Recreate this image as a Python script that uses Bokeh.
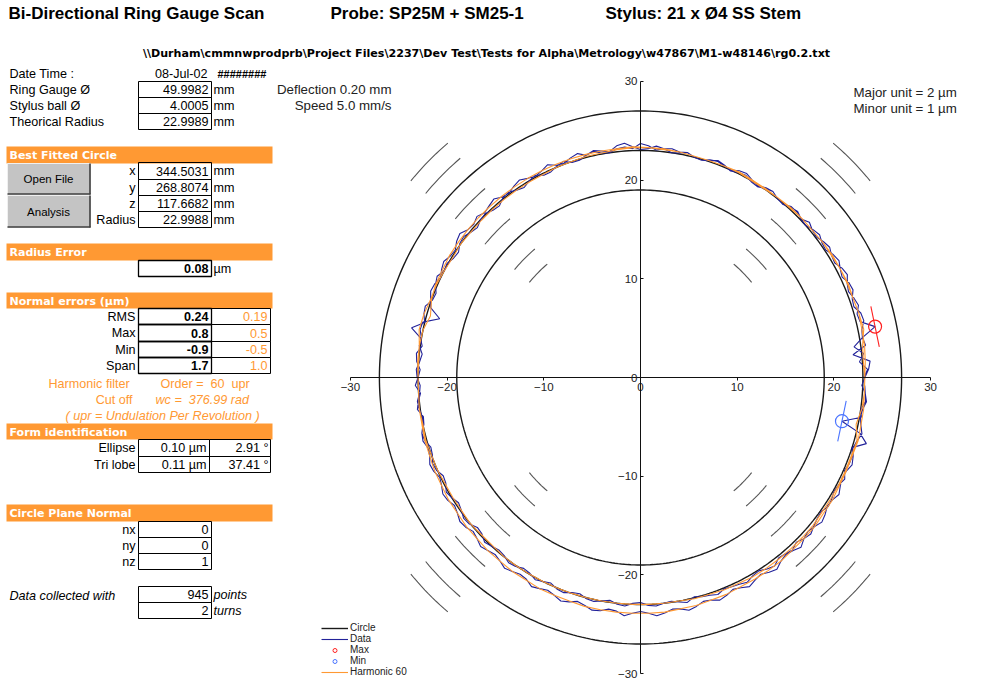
import numpy as np
from bokeh.plotting import figure
from bokeh.models import Range1d, LinearAxis, FixedTicker, Label, Legend, LegendItem
from bokeh.embed import file_html
from bokeh.resources import INLINE

# ---------------- data ----------------
title_texts = ["Bi-Directional Ring Gauge Scan", "Probe: SP25M + SM25-1", "Stylus: 21 x \u00d84 SS Stem"]
file_path = "\\\\Durham\\cmmnwprodprb\\Project Files\\2237\\Dev Test\\Tests for Alpha\\Metrology\\w47867\\M1-w48146\\rg0.2.txt"

info_labels = ["Ring Gauge \u00d8", "Stylus ball \u00d8", "Theorical Radius"]
info_values = ["49.9982", "4.0005", "22.9989"]
fit_labels = ["x", "y", "z", "Radius"]
fit_values = ["344.5031", "268.8074", "117.6682", "22.9988"]
radius_error = "0.08"
err_labels = ["RMS", "Max", "Min", "Span"]
err_raw = ["0.24", "0.8", "-0.9", "1.7"]
err_harm = ["0.19", "0.5", "-0.5", "1.0"]
form_labels = ["Ellipse", "Tri lobe"]
form_amp = ["0.10 \u00b5m", "0.11 \u00b5m"]
form_ang = ["2.91 \u00b0", "37.41 \u00b0"]
normal_labels = ["nx", "ny", "nz"]
normal_values = ["0", "0", "1"]
n_points = "945"
n_turns = "2"

ref_radius = 23.0
grid_circle_radii = [19.0, 27.0]
minor_arc_radii = [15, 17, 21, 25, 29, 31]
arc_centres_deg = [45, 135, 225, 315]
axis_ticks = [-30, -20, -10, 0, 10, 20, 30]

# radial deviation (plot units) of the raw data, 2 degree steps, turn 1 and turn 2
data_step_deg = 2
data_turn1 = [0.1, 0.5, -0.3, 0.2, -0.7, 0.3, 1.8, 0.4, 0.3, 0.7,
              0.5, 0.2, 0.4, 0.8, 0.6, 0.2, 0.3, 0.6, 0.4, 0.1,
              0.2, 0.5, 0.1, 0.3, 0.3, -0.1, 0.0, 0.3, 0.2, -0.1,
              0.1, 0.4, 0.3, 0.0, 0.1, 0.3, 0.2, -0.1, 0.0, 0.3,
              0.2, 0.4, 0.3, 0.1, 0.5, 0.7, 0.2, 0.4, 0.3, 0.0,
              0.1, 0.4, 0.2, -0.1, -0.1, 0.3, 0.1, -0.2, -0.2, 0.2,
              0.0, -0.3, -0.1, 0.2, 0.1, -0.3, -0.2, 0.1, 0.0, -0.3,
              -0.1, 0.2, 0.1, -0.3, -0.2, 0.1, 0.0, 0.4, 0.2, -0.2,
              -0.1, 0.4, 0.3, 0.0, 1.2, 0.1, -0.2, 0.3, 0.2, -0.2,
              0.0, 0.3, -0.2, 0.1, 0.3, -0.2, -0.1, 0.3, 0.2, -0.2,
              -0.1, 0.2, 0.1, -0.3, -0.2, 0.2, 0.0, -0.3, -0.1, 0.2,
              0.1, -0.3, -0.2, 0.2, 0.0, -0.2, -0.1, 0.2, 0.1, -0.2,
              -0.1, 0.2, 0.0, -0.2, 0.1, 0.2, -0.1, -0.2, 0.1, 0.2,
              0.0, -0.2, 0.1, 0.2, -0.1, -0.2, 0.1, 0.2, 0.0, -0.1,
              0.1, 0.3, -0.1, 0.1, 0.2, 0.4, 0.1, 0.2, 0.3, 0.5,
              0.2, 0.1, 0.4, 0.6, 0.2, 0.3, 0.5, 0.2, 0.5, 0.7,
              0.4, 0.2, 0.1, 0.4, 0.3, 0.1, 0.2, 0.5, 0.1, 0.3,
              0.3, 0.0, 1.3, 0.4, -1.7, 0.2, 0.0, 0.4, 0.3, -0.1]
data_turn2 = [0.2, 0.6, 0.8, -0.9, 0.5, 0.3, 0.4, 0.8, 0.7, 0.2,
              0.3, 0.7, 0.6, 0.2, 0.4, 0.7, 0.5, 0.1, 0.2, 0.5,
              0.3, 0.0, 0.1, 0.4, 0.2, -0.1, 0.0, 0.3, 0.1, -0.2,
              -0.1, 0.2, 0.1, -0.1, 0.2, 0.4, 0.1, -0.1, 0.0, 0.3,
              0.1, 0.0, 0.3, 0.5, 0.2, 0.1, 0.4, 0.8, 0.6, 0.1,
              0.3, 0.5, 0.2, 0.6, 0.4, 0.1, 0.2, 0.6, 0.3, 0.1,
              0.3, 0.6, 0.4, 0.1, 0.2, 0.6, 0.4, 0.2, 0.5, 0.2,
              0.3, 0.7, 0.5, 0.1, 0.2, 0.5, 0.3, 0.0, 0.3, 0.4,
              0.1, -0.2, -1.4, 0.2, 0.3, 0.0, 0.1, -0.3, -0.1, 0.2,
              0.1, -0.2, -0.1, 0.2, 0.1, -0.1, 0.0, 0.3, 0.4, 0.1,
              0.2, 0.5, 0.4, 0.1, 0.3, 0.6, 0.5, 0.2, 0.4, 0.7,
              0.6, 0.3, 0.5, 0.8, 0.6, 0.4, 0.6, 0.9, 0.7, 0.5,
              0.6, 1.0, 0.8, 0.6, 0.8, 1.1, 0.9, 0.6, 0.8, 1.1,
              1.0, 0.7, 0.8, 1.2, 0.9, 0.7, 0.9, 1.2, 1.0, 0.7,
              0.8, 1.1, 0.9, 0.6, 0.7, 1.0, 0.8, 0.5, 0.7, 1.0,
              0.7, 0.5, 0.8, 1.0, 0.6, 0.4, 0.6, 0.9, 0.5, 0.3,
              0.5, 0.8, 0.6, 0.3, 0.4, 0.7, 0.4, 0.2, 0.3, 0.6,
              0.4, 0.1, 0.3, 0.6, 0.3, 0.1, 0.2, 0.5, 0.3, 0.2]
# 60-upr harmonic filtered profile, 4 degree steps
harm_step_deg = 4
harm_turn1 = [0.2, 0.1, 0.2, 0.6, 0.5, 0.4, 0.4, 0.4, 0.3, 0.3,
              0.2, 0.2, 0.2, 0.1, 0.1, 0.1, 0.2, 0.1, 0.1, 0.1,
              0.2, 0.3, 0.3, 0.3, 0.2, 0.1, 0.1, 0.0, 0.0, -0.1,
              -0.1, -0.1, -0.1, -0.1, -0.1, -0.1, 0.0, -0.1, 0.0, 0.1,
              0.1, 0.3, 0.4, 0.1, 0.1, 0.0, 0.0, 0.1, 0.0, 0.1,
              0.0, 0.0, -0.1, -0.1, -0.1, 0.0, -0.1, -0.1, 0.0, 0.0,
              0.0, 0.0, 0.0, 0.0, 0.0, 0.0, 0.0, 0.0, 0.0, 0.0,
              0.0, 0.1, 0.1, 0.2, 0.2, 0.3, 0.3, 0.3, 0.3, 0.3,
              0.3, 0.2, 0.2, 0.2, 0.2, 0.2, 0.3, -0.2, 0.1, 0.2]
harm_turn2 = [0.2, 0.3, 0.4, 0.4, 0.5, 0.4, 0.5, 0.4, 0.4, 0.3,
              0.2, 0.2, 0.1, 0.1, 0.0, 0.0, 0.1, 0.1, 0.1, 0.1,
              0.2, 0.2, 0.3, 0.4, 0.3, 0.3, 0.3, 0.3, 0.3, 0.3,
              0.3, 0.3, 0.3, 0.3, 0.3, 0.3, 0.3, 0.3, 0.2, 0.2,
              0.0, -0.4, 0.0, 0.1, 0.0, 0.0, 0.0, 0.1, 0.1, 0.2,
              0.2, 0.3, 0.3, 0.4, 0.4, 0.5, 0.5, 0.6, 0.6, 0.7,
              0.7, 0.8, 0.8, 0.8, 0.9, 0.9, 0.9, 0.9, 0.9, 0.9,
              0.8, 0.8, 0.7, 0.7, 0.6, 0.6, 0.6, 0.6, 0.5, 0.5,
              0.5, 0.4, 0.4, 0.3, 0.3, 0.3, 0.4, 0.3, 0.3, 0.2]

# ---------------- geometry helpers ----------------
W, H = 988, 684
SX, SY = 9.67, 9.87      # pixels per plot unit
OX, OY = 640, 377        # pixel of plot origin
FONT = "Liberation Sans"
WIDE = "DejaVu Sans"
ORANGE = "#FF9933"
NB = "\u00a0"


def X(px):
    return (px - OX) / SX


def Y(py):
    return (OY - py) / SY


p = figure(width=W, height=H, x_range=Range1d(X(0), X(W)), y_range=Range1d(Y(H), Y(0)),
           x_axis_type=None, y_axis_type=None, toolbar_location=None, output_backend="svg",
           min_border=0, outline_line_color=None)
p.background_fill_color = "white"
p.border_fill_color = "white"


def lab(px, py, text, size=12.6, color="black", style="normal", align="left", font=FONT):
    p.add_layout(Label(x=X(px), y=Y(py), text=text, text_font=font, text_font_size=f"{size}px",
                       text_color=color, text_font_style=style, text_align=align, text_baseline="middle"))


def box(x0, x1, y0, y1, fill=None, line="black", lw=1):
    p.quad(left=[X(x0)], right=[X(x1)], top=[Y(y0)], bottom=[Y(y1)], fill_color=fill,
           line_color=line, line_width=lw)


def header(y0, y1, text):
    p.quad(left=[X(6)], right=[X(272)], top=[Y(y0)], bottom=[Y(y1)], fill_color=ORANGE, line_color=None)
    lab(9, (y0 + y1) / 2 + 0.5, text, size=11, color="white", style="bold", font=WIDE)


# ---------------- titles ----------------
lab(8, 13, title_texts[0], size=17, style="bold")
lab(330, 13, title_texts[1], size=17, style="bold")
lab(605, 13, title_texts[2], size=17, style="bold")
lab(486, 53, file_path, size=11.1, style="bold", align="center", font=WIDE)

# ---------------- info block ----------------
lab(9, 73, "Date Time :")
lab(207, 73, "08-Jul-02", align="right")
lab(217, 73, "########", size=11, style="bold")
for i, (l, v) in enumerate(zip(info_labels, info_values)):
    y0 = 81 + 16 * i
    box(138, 211, y0, y0 + 16)
    lab(9, y0 + 8, l)
    lab(208, y0 + 8, v, align="right")
    lab(213, y0 + 8, "mm")
lab(391, 89, "Deflection 0.20 mm", size=13.3, color="#222222", align="right")
lab(391, 105, "Speed 5.0 mm/s", size=13.3, color="#222222", align="right")

# ---------------- best fitted circle ----------------
header(146, 163, "Best Fitted Circle")
for (y0, y1, t) in [(163, 194, "Open File"), (195, 227, "Analysis")]:
    p.quad(left=[X(7)], right=[X(90)], top=[Y(y0)], bottom=[Y(y1)], fill_color="#C4C4C4", line_color=None)
    p.segment(x0=[X(7), X(7)], y0=[Y(y0), Y(y0)], x1=[X(90), X(7)], y1=[Y(y0), Y(y1)], line_color="#F0F0F0", line_width=1)
    p.segment(x0=[X(7), X(89.5)], y0=[Y(y1 - 0.5), Y(y0)], x1=[X(90), X(89.5)], y1=[Y(y1 - 0.5), Y(y1)],
              line_color="#404040", line_width=1.6)
    lab(48, (y0 + y1) / 2, t, size=11.5, align="center")
fit_rows = [162, 179, 195, 211, 227]
for i, (l, v) in enumerate(zip(fit_labels, fit_values)):
    y0, y1 = fit_rows[i], fit_rows[i + 1]
    box(138, 211, y0, y1)
    lab(135, (y0 + y1) / 2, l, align="right")
    lab(208, (y0 + y1) / 2, v, align="right")
    lab(213, (y0 + y1) / 2, "mm")

# ---------------- radius error ----------------
header(243, 260, "Radius Error")
box(138, 211, 260, 276, lw=1.3)
lab(208, 268, radius_error, style="bold", align="right")
lab(213, 268, "\u00b5m")

# ---------------- normal errors ----------------
header(292, 308, "Normal errors (\u00b5m)")
err_rows = [308, 324, 341, 357, 373]
for i in range(4):
    y0, y1 = err_rows[i], err_rows[i + 1]
    box(138, 211, y0, y1, lw=1.3)
    box(211, 270, y0, y1)
    lab(135, (y0 + y1) / 2, err_labels[i], align="right")
    lab(208, (y0 + y1) / 2, err_raw[i], style="bold", align="right")
    lab(267, (y0 + y1) / 2, err_harm[i], color=ORANGE, align="right")
lab(48, 383, "Harmonic filter", color=ORANGE)
lab(160, 383, "Order =" + NB * 2 + "60" + NB * 2 + "upr", color=ORANGE)
lab(132, 399, "Cut off", color=ORANGE, align="right")
lab(155, 399, "wc =" + NB * 2 + "376.99 rad", color=ORANGE, style="italic")
lab(65, 415, "( upr = Undulation Per Revolution )", color=ORANGE, style="italic")

# ---------------- form identification ----------------
header(423, 439, "Form identification")
form_rows = [439, 456, 472]
for i in range(2):
    y0, y1 = form_rows[i], form_rows[i + 1]
    box(138, 209, y0, y1)
    box(209, 270, y0, y1)
    lab(135, (y0 + y1) / 2, form_labels[i], align="right")
    lab(206, (y0 + y1) / 2, form_amp[i], align="right")
    lab(268, (y0 + y1) / 2, form_ang[i], align="right")

# ---------------- circle plane normal ----------------
header(504, 521, "Circle Plane Normal")
norm_rows = [521, 537, 553, 569]
for i in range(3):
    y0, y1 = norm_rows[i], norm_rows[i + 1]
    box(138, 211, y0, y1)
    lab(135, (y0 + y1) / 2, normal_labels[i], align="right")
    lab(208, (y0 + y1) / 2, normal_values[i], align="right")
lab(9, 595, "Data collected with", style="italic")
box(138, 211, 586, 602)
box(138, 211, 602, 618)
lab(208, 594, n_points, align="right")
lab(208, 610, n_turns, align="right")
lab(213, 594, "points", style="italic")
lab(213, 610, "turns", style="italic")

# ---------------- polar chart ----------------
theta_full = np.deg2rad(np.arange(0, 361, 1))
for r in grid_circle_radii:
    p.line(r * np.cos(theta_full), r * np.sin(theta_full), line_color="#1a1a1a", line_width=1.4)

xs, ys = [], []
for r in minor_arc_radii:
    for c in arc_centres_deg:
        t = np.deg2rad(np.linspace(c - 5, c + 5, 11))
        xs.append(list(r * np.cos(t)))
        ys.append(list(r * np.sin(t)))
p.multi_line(xs, ys, line_color="#555555", line_width=1.1)

circle_r = p.line(ref_radius * np.cos(theta_full), ref_radius * np.sin(theta_full),
                  line_color="#1a1a1a", line_width=1.4)

dev = np.array(data_turn1 + data_turn2)
harm = np.array(harm_turn1 + harm_turn2)
ang_d = np.deg2rad(np.arange(len(dev)) * data_step_deg)
ang_h = np.deg2rad(np.arange(len(harm)) * harm_step_deg)
rd = ref_radius + dev
rh = ref_radius + harm
data_r = p.line(rd * np.cos(ang_d), rd * np.sin(ang_d), line_color="#22229a", line_width=1.1)
harm_r = p.line(rh * np.cos(ang_h), rh * np.sin(ang_h), line_color=ORANGE, line_width=1.1)

MAXC, MINC = "#FF2020", "#4A74FF"
for idx, col in [(int(np.argmax(dev)), MAXC), (int(np.argmin(dev)), MINC)]:
    a, r = ang_d[idx], rd[idx]
    cx, cy = r * np.cos(a), r * np.sin(a)
    tx, ty = -np.sin(a) * 2.1, np.cos(a) * 2.1
    p.segment(x0=[cx - tx], y0=[cy - ty], x1=[cx + tx], y1=[cy + ty], line_color=col, line_width=1.1)
    p.scatter([cx], [cy], marker="circle", size=13, fill_color=None, line_color=col, line_width=1.2)

xax = LinearAxis(fixed_location=0, bounds=(-30, 30), ticker=FixedTicker(ticks=axis_ticks),
                 major_tick_in=0, major_tick_out=3, minor_tick_in=0, minor_tick_out=0,
                 major_label_text_font_size="11.5px", major_label_text_font=FONT,
                 major_label_text_color="#222222", axis_line_color="#111111", major_tick_line_color="#111111",
                 major_label_standoff=2)
yax = LinearAxis(fixed_location=0, bounds=(-30, 30), ticker=FixedTicker(ticks=axis_ticks),
                 major_tick_in=3, major_tick_out=0, minor_tick_in=0, minor_tick_out=0,
                 major_label_text_font_size="11.5px", major_label_text_font=FONT,
                 major_label_text_color="#222222", axis_line_color="#111111", major_tick_line_color="#111111",
                 major_label_standoff=3)
p.add_layout(xax, "below")
p.add_layout(yax, "left")

lab(853, 92, "Major unit = 2 \u00b5m", size=13.3, color="#222222")
lab(853, 108, "Minor unit = 1 \u00b5m", size=13.3, color="#222222")

max_proxy = p.scatter(x=[-500], y=[-500], marker="circle", size=6, fill_color=None, line_color=MAXC)
min_proxy = p.scatter(x=[-500], y=[-500], marker="circle", size=6, fill_color=None, line_color=MINC)
legend = Legend(items=[LegendItem(label="Circle", renderers=[circle_r]),
                       LegendItem(label="Data", renderers=[data_r]),
                       LegendItem(label="Max", renderers=[max_proxy]),
                       LegendItem(label="Min", renderers=[min_proxy]),
                       LegendItem(label="Harmonic 60", renderers=[harm_r])],
                location=(321, H - 677), background_fill_alpha=0, border_line_color=None, padding=0, margin=0,
                spacing=0, label_height=10, glyph_height=10, glyph_width=27, label_standoff=2,
                label_text_font_size="10px", label_text_font=FONT, label_text_color="#222222",
                label_text_line_height=1.0)
p.add_layout(legend)

open("out.html", "w").write(file_html(p, INLINE))
